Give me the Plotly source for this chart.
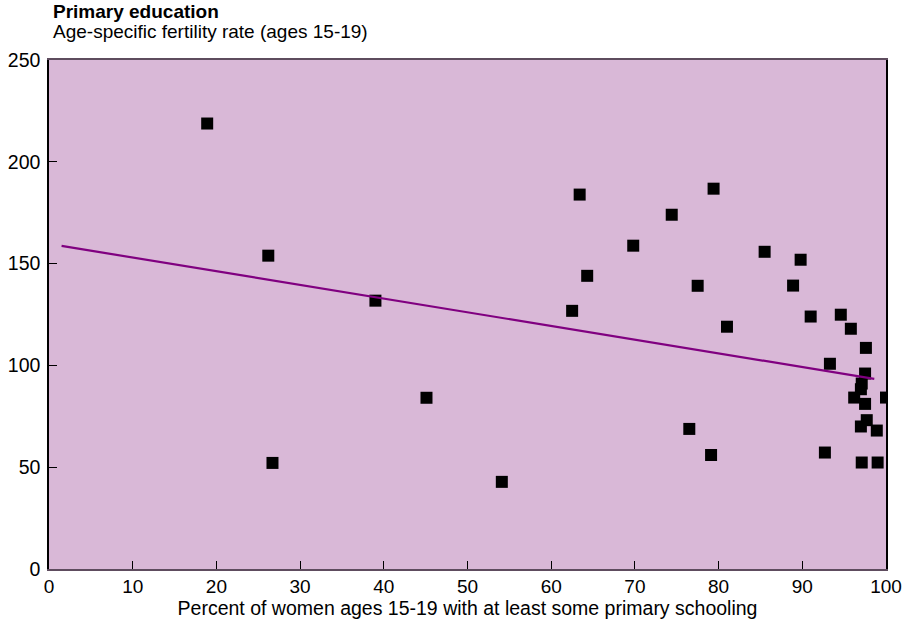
import plotly.graph_objects as go

# Data
pct_primary = [18.9, 26.2, 26.7, 39.0, 45.1, 54.1, 62.5, 63.4, 64.3, 69.8,
               74.4, 76.5, 77.5, 79.1, 79.4, 81.0, 85.5, 88.9, 89.8, 91.0,
               92.7, 93.3, 94.6, 95.8, 96.2, 97.6, 97.5, 97.1, 97.0, 97.5,
               100.0, 97.7, 97.0, 98.9, 97.1, 99.0]
fertility = [218.8, 153.9, 52.1, 131.8, 84.1, 42.8, 126.8, 183.9, 144.0, 158.8,
             174.0, 68.8, 139.1, 56.0, 186.8, 119.0, 155.8, 139.2, 151.9, 124.0,
             57.2, 100.8, 124.9, 118.0, 84.2, 108.6, 96.0, 91.1, 88.3, 81.1,
             84.2, 73.1, 70.0, 68.0, 52.3, 52.3]
trend_x = [1.5, 98.6]
trend_y = [158.7, 93.4]
x_ticks = [0, 10, 20, 30, 40, 50, 60, 70, 80, 90, 100]
y_ticks = [0, 50, 100, 150, 200, 250]

FONT = "Liberation Sans, Arial, Helvetica, sans-serif"

fig = go.Figure()
fig.add_trace(go.Scatter(
    x=pct_primary, y=fertility, mode="markers",
    marker=dict(symbol="square", size=12, color="black", line=dict(width=0)),
    showlegend=False, name="Countries"))
fig.add_trace(go.Scatter(
    x=trend_x, y=trend_y, mode="lines",
    line=dict(color="#800080", width=2.2),
    showlegend=False, name="Trend"))

fig.update_layout(
    width=905, height=635,
    margin=dict(l=49, r=19, t=60, b=66, autoexpand=False),
    paper_bgcolor="white",
    plot_bgcolor="#D9B8D7",
    font=dict(family=FONT, size=19, color="black"),
    xaxis=dict(range=[0, 100], tickvals=x_ticks, ticks="inside", ticklen=8,
               tickcolor="black", tickwidth=1, showgrid=False, zeroline=False,
               showline=True, linecolor="#5e4c5e", linewidth=2, mirror=True,
               automargin=False, ticklabelstandoff=-1,
               tickfont=dict(size=19, family=FONT),
               title=dict(text="Percent of women ages 15-19 with at least some primary schooling",
                          font=dict(size=19.5, family=FONT), standoff=0)),
    yaxis=dict(range=[0, 250], tickvals=y_ticks, ticks="inside", ticklen=8,
               tickcolor="black", tickwidth=1, showgrid=False, zeroline=False,
               showline=True, linecolor="black", linewidth=1.5, mirror=True,
               automargin=False, ticklabelstandoff=3,
               tickfont=dict(size=19.5, family=FONT)),
    annotations=[
        dict(text="<b>Primary education</b>", xref="paper", yref="paper",
             x=0.002, y=(569 - 11) / 509, xanchor="left", yanchor="middle",
             showarrow=False, font=dict(size=19, family=FONT)),
        dict(text="Age-specific fertility rate (ages 15-19)", xref="paper", yref="paper",
             x=0.002, y=(569 - 31.5) / 509, xanchor="left", yanchor="middle",
             showarrow=False, font=dict(size=19, family=FONT)),
    ],
)

fig.write_html("out.html")
